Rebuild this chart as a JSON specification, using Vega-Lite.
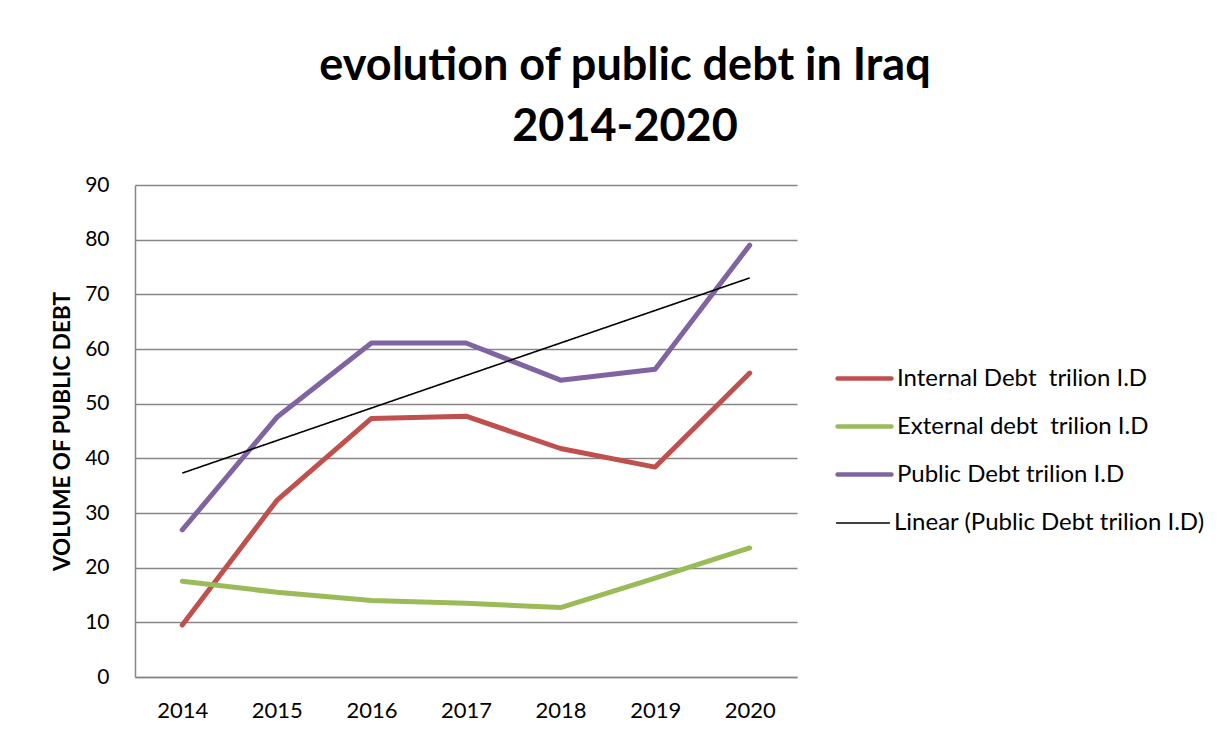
{
  "$schema": "https://vega.github.io/schema/vega-lite/v6.json",
  "width": 662,
  "height": 492,
  "autosize": {"type": "none"},
  "padding": {"left": 135, "top": 185, "right": 432, "bottom": 60},
  "background": "white",
  "title": {
    "text": ["evolution of public debt in Iraq", "2014-2020"],
    "font": "Lato",
    "fontWeight": "bold",
    "fontSize": 45,
    "color": "black",
    "anchor": "middle",
    "dx": 159,
    "offset": 24,
    "lineHeight": 61
  },
  "data": {
    "values": [
      {"year": "2014", "series": "Internal Debt\u00a0 trilion I.D", "value": 9.5},
      {"year": "2015", "series": "Internal Debt\u00a0 trilion I.D", "value": 32.3},
      {"year": "2016", "series": "Internal Debt\u00a0 trilion I.D", "value": 47.3},
      {"year": "2017", "series": "Internal Debt\u00a0 trilion I.D", "value": 47.7},
      {"year": "2018", "series": "Internal Debt\u00a0 trilion I.D", "value": 41.8},
      {"year": "2019", "series": "Internal Debt\u00a0 trilion I.D", "value": 38.4},
      {"year": "2020", "series": "Internal Debt\u00a0 trilion I.D", "value": 55.6},
      {"year": "2014", "series": "External debt\u00a0 trilion I.D", "value": 17.5},
      {"year": "2015", "series": "External debt\u00a0 trilion I.D", "value": 15.5},
      {"year": "2016", "series": "External debt\u00a0 trilion I.D", "value": 14.0},
      {"year": "2017", "series": "External debt\u00a0 trilion I.D", "value": 13.5},
      {"year": "2018", "series": "External debt\u00a0 trilion I.D", "value": 12.7},
      {"year": "2019", "series": "External debt\u00a0 trilion I.D", "value": 18.1},
      {"year": "2020", "series": "External debt\u00a0 trilion I.D", "value": 23.6},
      {"year": "2014", "series": "Public Debt trilion I.D", "value": 26.9},
      {"year": "2015", "series": "Public Debt trilion I.D", "value": 47.5},
      {"year": "2016", "series": "Public Debt trilion I.D", "value": 61.1},
      {"year": "2017", "series": "Public Debt trilion I.D", "value": 61.1},
      {"year": "2018", "series": "Public Debt trilion I.D", "value": 54.3},
      {"year": "2019", "series": "Public Debt trilion I.D", "value": 56.3},
      {"year": "2020", "series": "Public Debt trilion I.D", "value": 79.0},
      {"year": "2014", "series": "Linear (Public Debt trilion I.D)", "value": 37.3},
      {"year": "2020", "series": "Linear (Public Debt trilion I.D)", "value": 73.0}
    ]
  },
  "encoding": {
    "x": {
      "field": "year",
      "type": "ordinal",
      "scale": {"type": "point", "padding": 0.5},
      "axis": {
        "title": null,
        "labelAngle": 0,
        "labelFont": "Lato",
        "labelFontSize": 22,
        "labelColor": "black",
        "labelPadding": 23,
        "ticks": false,
        "domainColor": "#868686",
        "domainWidth": 1.5,
        "grid": false
      }
    },
    "y": {
      "field": "value",
      "type": "quantitative",
      "scale": {"domain": [0, 90], "nice": false},
      "axis": {
        "title": "VOLUME OF PUBLIC DEBT",
        "titleFont": "Lato",
        "titleFontSize": 22.5,
        "titleFontWeight": "bold",
        "titleColor": "black",
        "titleAngle": 270,
        "titleX": -73,
        "titleY": 246,
        "titleAlign": "center",
        "titleBaseline": "middle",
        "values": [0, 10, 20, 30, 40, 50, 60, 70, 80, 90],
        "labelFont": "Lato",
        "labelFontSize": 21,
        "labelColor": "black",
        "labelPadding": 26,
        "ticks": false,
        "domainColor": "#868686",
        "domainWidth": 1.5,
        "grid": true,
        "gridColor": "#868686",
        "gridWidth": 1.5
      }
    }
  },
  "layer": [
    {
      "transform": [{"filter": "datum.series !== 'Linear (Public Debt trilion I.D)'"}],
      "mark": {"type": "line", "strokeWidth": 5, "strokeCap": "round", "strokeJoin": "round"},
      "encoding": {
        "color": {
          "field": "series",
          "type": "nominal",
          "scale": {
            "domain": ["Internal Debt\u00a0 trilion I.D", "External debt\u00a0 trilion I.D", "Public Debt trilion I.D"],
            "range": ["#C0504D", "#9BBB59", "#8064A2"]
          },
          "legend": {
            "title": null,
            "orient": "none",
            "legendX": 700,
            "legendY": 164,
            "symbolType": "stroke",
            "symbolSize": 2900,
            "symbolStrokeWidth": 4.5,
            "labelFont": "Lato",
            "labelFontSize": 24,
            "labelColor": "black",
            "labelOffset": 3,
            "rowPadding": 6,
            "labelLimit": 400,
            "encode": {"symbols": {"update": {"strokeCap": {"value": "round"}}}}
          }
        }
      }
    },
    {
      "transform": [{"filter": "datum.series === 'Linear (Public Debt trilion I.D)'"}],
      "mark": {"type": "line", "strokeWidth": 1.6, "color": "black"},
      "encoding": {
        "strokeDash": {
          "field": "series",
          "type": "nominal",
          "scale": {"domain": ["Linear (Public Debt trilion I.D)"], "range": [[1, 0]]},
          "legend": {
            "title": null,
            "orient": "none",
            "legendX": 700,
            "legendY": 310,
            "symbolType": "stroke",
            "symbolSize": 2900,
            "symbolStrokeWidth": 1.6,
            "symbolStrokeColor": "black",
            "labelFont": "Lato",
            "labelFontSize": 24,
            "labelColor": "black",
            "labelOffset": 3,
            "labelLimit": 400
          }
        }
      }
    }
  ],
  "config": {
    "view": {"stroke": null}
  }
}
